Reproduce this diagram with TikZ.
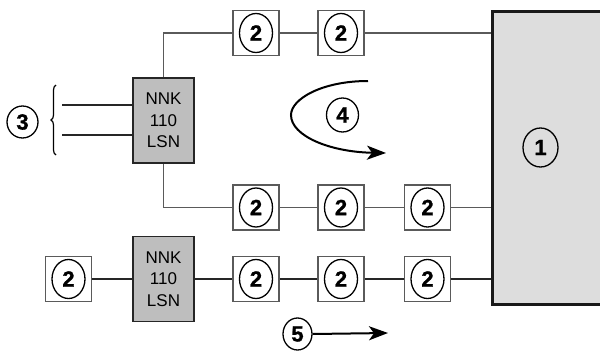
\documentclass[tikz,border=0pt]{standalone}
\usepackage{fontspec}
\setmainfont{Liberation Sans}
\newfontfamily\digitfont[FakeBold=1.2]{Liberation Sans Bold}
\usetikzlibrary{shapes.geometric,arrows.meta,decorations.pathreplacing}
\definecolor{bigfill}{HTML}{DDDDDD}
\definecolor{nnkfill}{HTML}{BEBEBE}
\definecolor{linegray}{HTML}{5A5A5A}
\tikzset{
  sqbox/.style={draw=linegray, line width=1.4pt, fill=white, minimum width=46pt, minimum height=45pt, inner sep=0pt},
  num/.style={ellipse, draw=black, line width=1.3pt, minimum width=33pt, minimum height=39pt, inner sep=0pt, font=\digitfont\fontsize{22}{22}\selectfont},
  nnk/.style={draw=black!85, line width=1.6pt, fill=nnkfill, minimum width=61pt, minimum height=85pt, inner sep=0pt, align=center, font=\fontsize{17}{21.5}\selectfont},
  thinline/.style={draw=linegray, line width=1.1pt},
  thickline/.style={draw=black!85, line width=1.7pt},
  bigarrow/.style={draw=black, line width=2pt, -{Stealth[length=19pt,width=14pt,inset=5pt]}}
}
\newcommand{\boxtwo}[2]{\node[sqbox] (#1) at (#2) {}; \node[num] (#1n) at (#1) {2};}
\begin{document}
\begin{tikzpicture}[x=1pt,y=-1pt]
\useasboundingbox (0,0) rectangle (600,351);
\clip (0,0) rectangle (600,351);
% big box
\node[draw=black!90, line width=2.6pt, fill=bigfill, minimum width=130pt, minimum height=293pt, anchor=north west, inner sep=0pt] (one) at (491,10) {};
\node[num, minimum width=35pt, minimum height=39pt] (onelabel) at (540.5,147.5) {1};
% NNK boxes
\node[nnk] (nnk1) at (163.5,120.5) {NNK\\110\\LSN};
\node[nnk] (nnk2) at (163.5,279) {NNK\\110\\LSN};
% boxes 2
\boxtwo{t1}{256,33}
\boxtwo{t2}{341,33}
\boxtwo{m1}{256,207.5}
\boxtwo{m2}{341,207.5}
\boxtwo{m3}{427.5,207.5}
\boxtwo{b0}{68.5,279}
\boxtwo{b1}{256,279}
\boxtwo{b2}{341,279}
\boxtwo{b3}{427.5,279}
% connectors top
\draw[thinline] (nnk1.north) |- (t1.west);
\draw[thinline] (t1.east) -- (t2.west);
\draw[thinline] (t2.east) -- (t2.east -| one.west);
% middle
\draw[thinline] (nnk1.south) |- (m1.west);
\draw[thinline] (m1.east) -- (m2.west);
\draw[thinline] (m2.east) -- (m3.west);
\draw[thinline] (m3.east) -- (m3.east -| one.west);
% bottom
\draw[thickline] (b0.east) -- (nnk2.west);
\draw[thickline] (nnk2.east) -- (b1.west);
\draw[thickline] (b1.east) -- (b2.west);
\draw[thickline] (b2.east) -- (b3.west);
\draw[thickline] (b3.east) -- (b3.east -| one.west);
% inputs 3
\coordinate (i1) at (62,105);
\coordinate (i2) at (62,135);
\draw[thickline] (i1) -- (i1 -| nnk1.west);
\draw[thickline] (i2) -- (i2 -| nnk1.west);
\coordinate (br1) at (56,155);
\coordinate (br2) at (56,85);
\draw[draw=black, line width=1.2pt, decorate, decoration={brace, amplitude=5pt}] (br1) -- (br2);
\node[num, minimum width=31pt, minimum height=32pt] (three) at (22.5,122) {3};
% arrow 4
\node[num, minimum width=32pt, minimum height=34pt] (four) at (342.5,115) {4};
\coordinate (a4s) at (368,81);
\coordinate (a4m) at (291,115);
\coordinate (a4e) at (386,153);
\draw[bigarrow] (a4s) .. controls (322,81) and (291,99) .. (a4m) .. controls (291,136) and (330,152) .. (a4e);
% arrow 5
\node[num, minimum width=29pt, minimum height=32pt] (five) at (297.5,334) {5};
\coordinate (a5e) at (388,333);
\draw[bigarrow] (five.east) -- (a5e);
\end{tikzpicture}
\end{document}
